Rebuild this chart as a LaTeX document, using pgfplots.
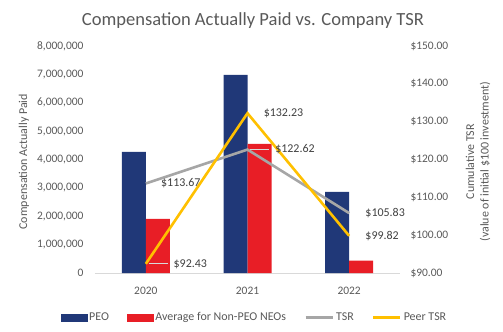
\documentclass[border=0pt]{standalone}
\usepackage{pgfplots}
\pgfplotsset{compat=1.18}
\usepackage{pgfplotstable}
\usepackage{fontspec}
\setmainfont{Carlito}
\definecolor{peo}{RGB}{32,56,120}
\definecolor{neo}{RGB}{232,30,38}
\definecolor{tsrc}{RGB}{166,166,166}
\definecolor{peer}{RGB}{255,192,0}
\definecolor{txt}{RGB}{89,89,89}
\definecolor{lab}{RGB}{64,64,64}
\definecolor{basec}{RGB}{217,217,217}
\newcommand\leader{\hspace{1.5bp}{\color{basec}\rule[0.3em]{19bp}{0.8bp}}\hspace{6bp}}

\pgfplotstableread{
x y lab
0 113.67 {\hspace{14bp}\$113.67}
1 122.62 {\leader\$122.62}
2 105.83 {\hspace{15bp}\$105.83}
}\tsrtable
\pgfplotstableread{
x y lab
0 92.43 {\leader\$92.43}
1 132.23 {\hspace{15bp}\$132.23}
2 99.82 {\hspace{15bp}\$99.82}
}\peertable

\begin{document}
\begin{tikzpicture}[font=\fontsize{11.5}{13}\selectfont]
\path[use as bounding box] (-95bp,-59bp) rectangle (408bp,273bp);
\begin{axis}[
  scale only axis, width=305bp, height=227bp,
  at={(0,0)}, anchor=south west,
  xmin=-0.5, xmax=2.5, ymin=0, ymax=8,
  xtick={0,1,2}, xticklabels={2020,2021,2022},
  ytick={0,1,2,3,4,5,6,7,8},
  yticklabels={0,{1,000,000},{2,000,000},{3,000,000},{4,000,000},{5,000,000},{6,000,000},{7,000,000},{8,000,000}},
  axis x line*=bottom, axis y line*=left,
  y axis line style={draw=none},
  x axis line style={draw=basec, line width=0.8bp, -},
  major tick length=0pt,
  tick label style={text=txt, font=\fontsize{11.5}{13}\selectfont},
  yticklabel style={xshift=-8bp},
  xticklabel style={yshift=-11bp},
  ylabel={Compensation Actually Paid},
  ylabel style={at={(axis description cs:-0.233,0.49)}, anchor=center, text=txt, font=\fontsize{12}{14}\selectfont},
  ybar=0pt, bar width=24bp,
  clip=false,
]
\addplot[fill=peo, draw=none] coordinates {(0,4.27) (1,6.98) (2,2.86)};
\addplot[fill=neo, draw=none] coordinates {(0,1.91) (1,4.55) (2,0.44)};
\node[font=\fontsize{18.6}{21}\selectfont, text=txt] at (axis description cs:0.518,1) [yshift=25bp] {Compensation Actually Paid vs. Company TSR};
\end{axis}
\begin{axis}[
  scale only axis, width=305bp, height=227bp,
  at={(0,0)}, anchor=south west,
  xmin=-0.5, xmax=2.5, ymin=90, ymax=150,
  ytick={90,100,110,120,130,140,150},
  yticklabels={\$90.00,\$100.00,\$110.00,\$120.00,\$130.00,\$140.00,\$150.00},
  axis x line=none, axis y line*=right,
  y axis line style={draw=none},
  major tick length=0pt,
  tick label style={text=txt, font=\fontsize{11.5}{13}\selectfont},
  yticklabel style={xshift=7bp},
  ylabel={Cumulative TSR\\(value of initial \$100 investment)},
  ylabel style={at={(axis description cs:1.256,0.49)}, anchor=center, align=center, text=txt, font=\fontsize{12}{14.5}\selectfont},
  clip=false,
  legend columns=4,
  legend style={draw=none, fill=none, at={(axis description cs:0.523,-0.195)}, anchor=center,
    font=\fontsize{12}{14}\selectfont, text=txt,
    /tikz/every even column/.append style={column sep=16bp}},
]
\addlegendimage{legend image code/.code={\fill[peo] (0bp,-3.5bp) rectangle (26bp,3.5bp);}}
\addlegendentry{PEO}
\addlegendimage{legend image code/.code={\fill[neo] (0bp,-3.5bp) rectangle (26bp,3.5bp);}}
\addlegendentry{Average for Non-PEO NEOs}
\addlegendimage{legend image code/.code={\draw[tsrc, line width=3bp] (0bp,0bp) -- (27bp,0bp);}}
\addlegendentry{TSR}
\addlegendimage{legend image code/.code={\draw[peer, line width=3bp] (0bp,0bp) -- (27bp,0bp);}}
\addlegendentry{Peer TSR}
\addplot[tsrc, line width=2.6bp, mark=none,
  nodes near coords, point meta=explicit symbolic,
  nodes near coords style={anchor=west, inner sep=0pt, text=lab, font=\fontsize{12}{14}\selectfont}]
  table[x=x, y=y, meta=lab] {\tsrtable};
\addplot[peer, line width=2.6bp, mark=none,
  nodes near coords, point meta=explicit symbolic,
  nodes near coords style={anchor=west, inner sep=0pt, text=lab, font=\fontsize{12}{14}\selectfont}]
  table[x=x, y=y, meta=lab] {\peertable};
\end{axis}
\end{tikzpicture}
\end{document}
